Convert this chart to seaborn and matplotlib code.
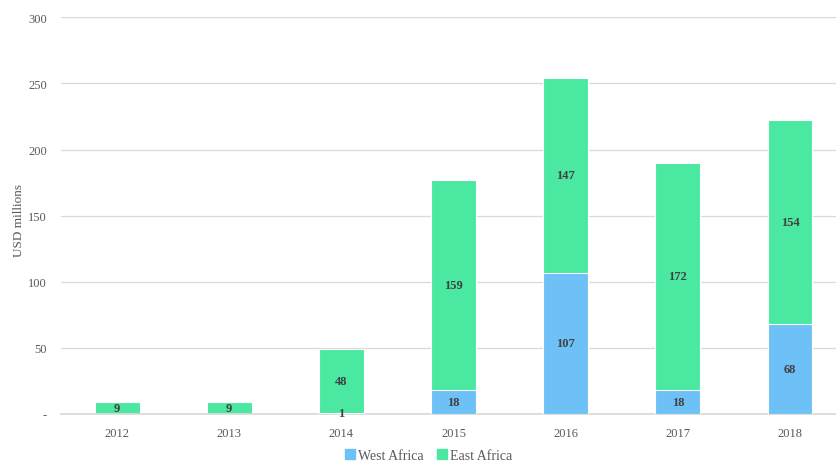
import matplotlib.pyplot as plt
import seaborn as sns
import pandas as pd
from matplotlib.patches import Patch

# DATA
years = ["2012", "2013", "2014", "2015", "2016", "2017", "2018"]
west_africa = [0, 0, 1, 18, 107, 18, 68]
east_africa = [9, 9, 48, 159, 147, 172, 154]

BLUE = "#6EC1F7"
GREEN = "#4AE8A0"

df = pd.DataFrame({"year": years, "West Africa": west_africa, "East Africa": east_africa})
df["total"] = df["West Africa"] + df["East Africa"]

sns.set_theme(style="white")
plt.rcParams["font.family"] = ["Liberation Serif", "DejaVu Serif"]

fig = plt.figure(figsize=(8.36, 4.64), dpi=100)
ax = fig.add_axes([0.073, 0.1056, 0.939, 0.855])

# stacked: total in green, west drawn over it in blue
sns.barplot(data=df, x="year", y="total", color=GREEN, width=0.40, saturation=1,
            edgecolor="white", linewidth=0.8, ax=ax, zorder=2)
sns.barplot(data=df, x="year", y="West Africa", color=BLUE, width=0.40, saturation=1,
            edgecolor="white", linewidth=0.8, ax=ax, zorder=3)

# value labels
for i, (w, e) in enumerate(zip(west_africa, east_africa)):
    if w > 0:
        ax.text(i, w / 2, str(w), ha="center", va="center", fontsize=9,
                fontweight="bold", color="#404040", zorder=4)
    ax.text(i, w + e / 2, str(e), ha="center", va="center", fontsize=9,
            fontweight="bold", color="#404040", zorder=4)

ax.set_ylim(0, 300)
ax.set_xlim(-0.5, 6.5)
ax.set_yticks(range(0, 301, 50))
ax.set_yticklabels(["-"] + [str(v) for v in range(50, 301, 50)])
ax.yaxis.grid(True, color="#d9d9d9", linewidth=0.9, zorder=0)
ax.set_axisbelow(True)
ax.tick_params(axis="y", labelsize=9, colors="#595959", length=0, pad=10)
ax.tick_params(axis="x", labelsize=9, colors="#595959", length=0, pad=9)
ax.set_xlabel("")
ax.set_ylabel("USD millions", fontsize=9.5, color="#595959")
ax.yaxis.set_label_coords(-0.046, 0.49)
sns.despine(ax=ax, left=True)
ax.spines["bottom"].set_color("#d9d9d9")

# legend
handles = [Patch(color=BLUE, label="West Africa"), Patch(color=GREEN, label="East Africa")]
fig.legend(handles=handles, loc="lower center", ncol=2, frameon=False, fontsize=10,
           bbox_to_anchor=(0.513, -0.025), handlelength=0.7, handleheight=0.7,
           handletextpad=0.2, columnspacing=1.0, labelcolor="#595959")

plt.savefig("out.png", dpi=100)
